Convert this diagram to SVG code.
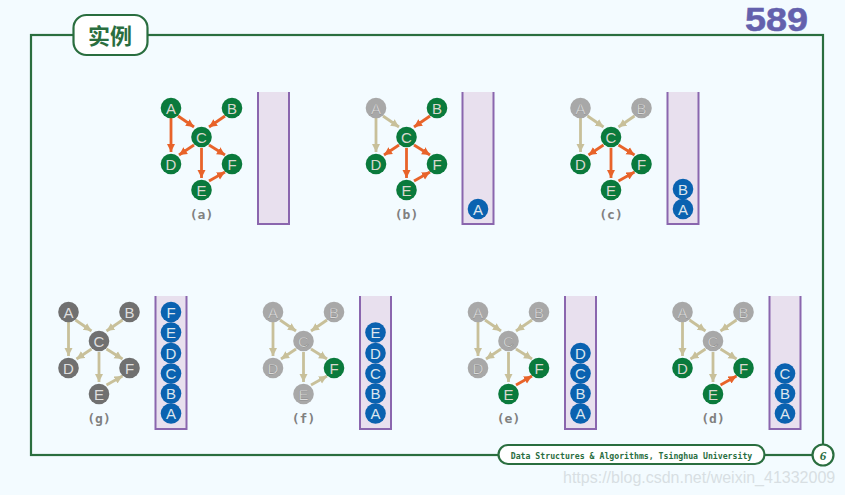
<svg xmlns="http://www.w3.org/2000/svg" width="845" height="495" viewBox="0 0 845 495">
<style>
.frame{fill:none;stroke:#2a6e3f;stroke-width:2.2}
.pill{fill:#fff;stroke:#2a6e3f;stroke-width:2.2}
.stack{fill:#e8e0ee;stroke:none}
.wall{fill:none;stroke:#8a66ae;stroke-width:2}
.o{stroke:#e8632a;stroke-width:2.8;marker-end:url(#mo)}
.t{stroke:#c8c09a;stroke-width:2.8;marker-end:url(#mt)}
.n text,.s text{font:15px "Liberation Sans",sans-serif;text-anchor:middle}
.n circle,.s circle{r:10.3px}
.g circle{fill:#0a7a3c}.g text{fill:#d8d8d0}
.y circle{fill:#a8a8a8}.y text{fill:#dcdcdc;stroke:#707070;stroke-width:.25}
.k circle{fill:#707070}.k text{fill:#dedede}
.s circle{fill:#0a62b0}.s text{fill:#dce6ee}
.lab{font:bold 13px "DejaVu Sans Mono",monospace;fill:#808080;text-anchor:middle}
</style>
<defs>
<marker id="mo" markerUnits="userSpaceOnUse" markerWidth="10" markerHeight="10" refX="8" refY="4.500" orient="auto"><path d="M0,0.500L8,4.500L0,8.500z" fill="#e8632a"/></marker>
<marker id="mt" markerUnits="userSpaceOnUse" markerWidth="10" markerHeight="10" refX="8" refY="4.500" orient="auto"><path d="M0,0.500L8,4.500L0,8.500z" fill="#c8c09a"/></marker>
</defs>
<rect width="845" height="495" fill="#f3fbff"/>
<g id="frame">
<rect class="frame" x="31" y="35" width="792" height="420"/>
<text x="745" y="30.500" textLength="63" lengthAdjust="spacingAndGlyphs" style="font:bold 33px 'Liberation Sans',sans-serif;fill:#6461ad;stroke:#6461ad;stroke-width:.5">589</text>
</g>
<g id="title">
<rect class="pill" x="73.500" y="15" width="74" height="40" rx="13"/>
<text x="110" y="44" style="font:bold 22px 'Noto Sans CJK SC',sans-serif;fill:#2a6e3f;text-anchor:middle">实例</text>
</g>
<g id="footer">
<rect class="pill" x="498.500" y="445" width="266" height="19" rx="9.500"/>
<text x="631.500" y="458.500" style="font:bold 8.200px 'DejaVu Sans Mono',monospace;fill:#2a6e3f;text-anchor:middle">Data Structures &amp; Algorithms, Tsinghua University</text>
<circle cx="823" cy="455" r="10.500" fill="#fff" stroke="#2a6e3f" stroke-width="2.200"/>
<text x="823" y="460" style="font:italic bold 13px 'Liberation Serif',serif;fill:#2a6e3f;text-anchor:middle">6</text>
</g>
<g id="stacks">
<g id="stack-a"><rect class="stack" x="258" y="92" width="31" height="132"/><path class="wall" d="M258,92V224H289V92"/></g>
<g id="stack-b"><rect class="stack" x="462.500" y="92" width="31" height="132"/><path class="wall" d="M462.500,92V224H493.500V92"/></g>
<g id="stack-c"><rect class="stack" x="667.500" y="92" width="31" height="132"/><path class="wall" d="M667.500,92V224H698.500V92"/></g>
<g id="stack-g"><rect class="stack" x="155.500" y="296" width="31" height="133"/><path class="wall" d="M155.500,296V429H186.500V296"/></g>
<g id="stack-f"><rect class="stack" x="360" y="296" width="31" height="133"/><path class="wall" d="M360,296V429H391V296"/></g>
<g id="stack-e"><rect class="stack" x="565" y="296" width="31" height="133"/><path class="wall" d="M565,296V429H596V296"/></g>
<g id="stack-d"><rect class="stack" x="769.500" y="296" width="31" height="133"/><path class="wall" d="M769.500,296V429H800.500V296"/></g>
</g>
<g id="connectors">
<g transform="translate(0,0)">
<line class="o" x1="178" y1="116" x2="194" y2="127"/><line class="o" x1="171" y1="118" x2="171" y2="152"/><line class="o" x1="225" y1="116" x2="209" y2="127"/><line class="o" x1="194" y1="145" x2="179" y2="155"/><line class="o" x1="201.500" y1="148" x2="201.500" y2="178"/><line class="o" x1="209" y1="145" x2="225" y2="155"/><line class="o" x1="209" y1="181" x2="225" y2="172"/>
</g>
<g transform="translate(205,0)">
<line class="t" x1="178" y1="116" x2="194" y2="127"/><line class="t" x1="171" y1="118" x2="171" y2="152"/><line class="o" x1="225" y1="116" x2="209" y2="127"/><line class="o" x1="194" y1="145" x2="179" y2="155"/><line class="o" x1="201.500" y1="148" x2="201.500" y2="178"/><line class="o" x1="209" y1="145" x2="225" y2="155"/><line class="o" x1="209" y1="181" x2="225" y2="172"/>
</g>
<g transform="translate(409.500,0)">
<line class="t" x1="178" y1="116" x2="194" y2="127"/><line class="t" x1="171" y1="118" x2="171" y2="152"/><line class="t" x1="225" y1="116" x2="209" y2="127"/><line class="o" x1="194" y1="145" x2="179" y2="155"/><line class="o" x1="201.500" y1="148" x2="201.500" y2="178"/><line class="o" x1="209" y1="145" x2="225" y2="155"/><line class="o" x1="209" y1="181" x2="225" y2="172"/>
</g>
<g transform="translate(-102.500,204)">
<line class="t" x1="178" y1="116" x2="194" y2="127"/><line class="t" x1="171" y1="118" x2="171" y2="152"/><line class="t" x1="225" y1="116" x2="209" y2="127"/><line class="t" x1="194" y1="145" x2="179" y2="155"/><line class="t" x1="201.500" y1="148" x2="201.500" y2="178"/><line class="t" x1="209" y1="145" x2="225" y2="155"/><line class="t" x1="209" y1="181" x2="225" y2="172"/>
</g>
<g transform="translate(102,204)">
<line class="t" x1="178" y1="116" x2="194" y2="127"/><line class="t" x1="171" y1="118" x2="171" y2="152"/><line class="t" x1="225" y1="116" x2="209" y2="127"/><line class="t" x1="194" y1="145" x2="179" y2="155"/><line class="t" x1="201.500" y1="148" x2="201.500" y2="178"/><line class="t" x1="209" y1="145" x2="225" y2="155"/><line class="t" x1="209" y1="181" x2="225" y2="172"/>
</g>
<g transform="translate(307,204)">
<line class="t" x1="178" y1="116" x2="194" y2="127"/><line class="t" x1="171" y1="118" x2="171" y2="152"/><line class="t" x1="225" y1="116" x2="209" y2="127"/><line class="t" x1="194" y1="145" x2="179" y2="155"/><line class="t" x1="201.500" y1="148" x2="201.500" y2="178"/><line class="t" x1="209" y1="145" x2="225" y2="155"/><line class="o" x1="209" y1="181" x2="225" y2="172"/>
</g>
<g transform="translate(511.500,204)">
<line class="t" x1="178" y1="116" x2="194" y2="127"/><line class="t" x1="171" y1="118" x2="171" y2="152"/><line class="t" x1="225" y1="116" x2="209" y2="127"/><line class="t" x1="194" y1="145" x2="179" y2="155"/><line class="t" x1="201.500" y1="148" x2="201.500" y2="178"/><line class="t" x1="209" y1="145" x2="225" y2="155"/><line class="o" x1="209" y1="181" x2="225" y2="172"/>
</g>
</g>
<g id="panel-a">
<g id="a-A" class="n g" transform="translate(171,108)"><circle/><text y="5.500">A</text></g>
<g id="a-B" class="n g" transform="translate(232,108)"><circle/><text y="5.500">B</text></g>
<g id="a-C" class="n g" transform="translate(201.500,137)"><circle/><text y="5.500">C</text></g>
<g id="a-D" class="n g" transform="translate(171,164)"><circle/><text y="5.500">D</text></g>
<g id="a-F" class="n g" transform="translate(232,164)"><circle/><text y="5.500">F</text></g>
<g id="a-E" class="n g" transform="translate(201.500,190)"><circle/><text y="5.500">E</text></g>
<text class="lab" x="201.500" y="219">(a)</text>
</g>
<g id="panel-b" transform="translate(205,0)">
<g id="b-A" class="n y" transform="translate(171,108)"><circle/><text y="5.500">A</text></g>
<g id="b-B" class="n g" transform="translate(232,108)"><circle/><text y="5.500">B</text></g>
<g id="b-C" class="n g" transform="translate(201.500,137)"><circle/><text y="5.500">C</text></g>
<g id="b-D" class="n g" transform="translate(171,164)"><circle/><text y="5.500">D</text></g>
<g id="b-F" class="n g" transform="translate(232,164)"><circle/><text y="5.500">F</text></g>
<g id="b-E" class="n g" transform="translate(201.500,190)"><circle/><text y="5.500">E</text></g>
<text class="lab" x="201.500" y="219">(b)</text>
<g id="b-s-A" class="s" transform="translate(273,209)"><circle/><text y="5.500">A</text></g>
</g>
<g id="panel-c" transform="translate(409.500,0)">
<g id="c-A" class="n y" transform="translate(171,108)"><circle/><text y="5.500">A</text></g>
<g id="c-B" class="n y" transform="translate(232,108)"><circle/><text y="5.500">B</text></g>
<g id="c-C" class="n g" transform="translate(201.500,137)"><circle/><text y="5.500">C</text></g>
<g id="c-D" class="n g" transform="translate(171,164)"><circle/><text y="5.500">D</text></g>
<g id="c-F" class="n g" transform="translate(232,164)"><circle/><text y="5.500">F</text></g>
<g id="c-E" class="n g" transform="translate(201.500,190)"><circle/><text y="5.500">E</text></g>
<text class="lab" x="201.500" y="219">(c)</text>
<g id="c-s-B" class="s" transform="translate(273.500,189)"><circle/><text y="5.500">B</text></g>
<g id="c-s-A" class="s" transform="translate(273.500,209)"><circle/><text y="5.500">A</text></g>
</g>
<g id="panel-g" transform="translate(-102.500,204)">
<g id="g-A" class="n k" transform="translate(171,108)"><circle/><text y="5.500">A</text></g>
<g id="g-B" class="n k" transform="translate(232,108)"><circle/><text y="5.500">B</text></g>
<g id="g-C" class="n k" transform="translate(201.500,137)"><circle/><text y="5.500">C</text></g>
<g id="g-D" class="n k" transform="translate(171,164)"><circle/><text y="5.500">D</text></g>
<g id="g-F" class="n k" transform="translate(232,164)"><circle/><text y="5.500">F</text></g>
<g id="g-E" class="n k" transform="translate(201.500,190)"><circle/><text y="5.500">E</text></g>
<text class="lab" x="201.500" y="219">(g)</text>
<g id="g-s-F" class="s" transform="translate(273.500,108)"><circle/><text y="5.500">F</text></g>
<g id="g-s-E" class="s" transform="translate(273.500,128.500)"><circle/><text y="5.500">E</text></g>
<g id="g-s-D" class="s" transform="translate(273.500,149)"><circle/><text y="5.500">D</text></g>
<g id="g-s-C" class="s" transform="translate(273.500,169.500)"><circle/><text y="5.500">C</text></g>
<g id="g-s-B" class="s" transform="translate(273.500,189.500)"><circle/><text y="5.500">B</text></g>
<g id="g-s-A" class="s" transform="translate(273.500,209.500)"><circle/><text y="5.500">A</text></g>
</g>
<g id="panel-f" transform="translate(102,204)">
<g id="f-A" class="n y" transform="translate(171,108)"><circle/><text y="5.500">A</text></g>
<g id="f-B" class="n y" transform="translate(232,108)"><circle/><text y="5.500">B</text></g>
<g id="f-C" class="n y" transform="translate(201.500,137)"><circle/><text y="5.500">C</text></g>
<g id="f-D" class="n y" transform="translate(171,164)"><circle/><text y="5.500">D</text></g>
<g id="f-F" class="n g" transform="translate(232,164)"><circle/><text y="5.500">F</text></g>
<g id="f-E" class="n y" transform="translate(201.500,190)"><circle/><text y="5.500">E</text></g>
<text class="lab" x="201.500" y="219">(f)</text>
<g id="f-s-E" class="s" transform="translate(273.500,128.500)"><circle/><text y="5.500">E</text></g>
<g id="f-s-D" class="s" transform="translate(273.500,149)"><circle/><text y="5.500">D</text></g>
<g id="f-s-C" class="s" transform="translate(273.500,169.500)"><circle/><text y="5.500">C</text></g>
<g id="f-s-B" class="s" transform="translate(273.500,189.500)"><circle/><text y="5.500">B</text></g>
<g id="f-s-A" class="s" transform="translate(273.500,209.500)"><circle/><text y="5.500">A</text></g>
</g>
<g id="panel-e" transform="translate(307,204)">
<g id="e-A" class="n y" transform="translate(171,108)"><circle/><text y="5.500">A</text></g>
<g id="e-B" class="n y" transform="translate(232,108)"><circle/><text y="5.500">B</text></g>
<g id="e-C" class="n y" transform="translate(201.500,137)"><circle/><text y="5.500">C</text></g>
<g id="e-D" class="n y" transform="translate(171,164)"><circle/><text y="5.500">D</text></g>
<g id="e-F" class="n g" transform="translate(232,164)"><circle/><text y="5.500">F</text></g>
<g id="e-E" class="n g" transform="translate(201.500,190)"><circle/><text y="5.500">E</text></g>
<text class="lab" x="201.500" y="219">(e)</text>
<g id="e-s-D" class="s" transform="translate(273.500,149)"><circle/><text y="5.500">D</text></g>
<g id="e-s-C" class="s" transform="translate(273.500,169.500)"><circle/><text y="5.500">C</text></g>
<g id="e-s-B" class="s" transform="translate(273.500,189.500)"><circle/><text y="5.500">B</text></g>
<g id="e-s-A" class="s" transform="translate(273.500,209.500)"><circle/><text y="5.500">A</text></g>
</g>
<g id="panel-d" transform="translate(511.500,204)">
<g id="d-A" class="n y" transform="translate(171,108)"><circle/><text y="5.500">A</text></g>
<g id="d-B" class="n y" transform="translate(232,108)"><circle/><text y="5.500">B</text></g>
<g id="d-C" class="n y" transform="translate(201.500,137)"><circle/><text y="5.500">C</text></g>
<g id="d-D" class="n g" transform="translate(171,164)"><circle/><text y="5.500">D</text></g>
<g id="d-F" class="n g" transform="translate(232,164)"><circle/><text y="5.500">F</text></g>
<g id="d-E" class="n g" transform="translate(201.500,190)"><circle/><text y="5.500">E</text></g>
<text class="lab" x="201.500" y="219">(d)</text>
<g id="d-s-C" class="s" transform="translate(273.500,169.500)"><circle/><text y="5.500">C</text></g>
<g id="d-s-B" class="s" transform="translate(273.500,189.500)"><circle/><text y="5.500">B</text></g>
<g id="d-s-A" class="s" transform="translate(273.500,209.500)"><circle/><text y="5.500">A</text></g>
</g>
<text id="watermark" x="563" y="483" style="font:16px 'Liberation Sans',sans-serif;fill:#d8dfe3">https://blog.csdn.net/weixin_41332009</text>
</svg>
